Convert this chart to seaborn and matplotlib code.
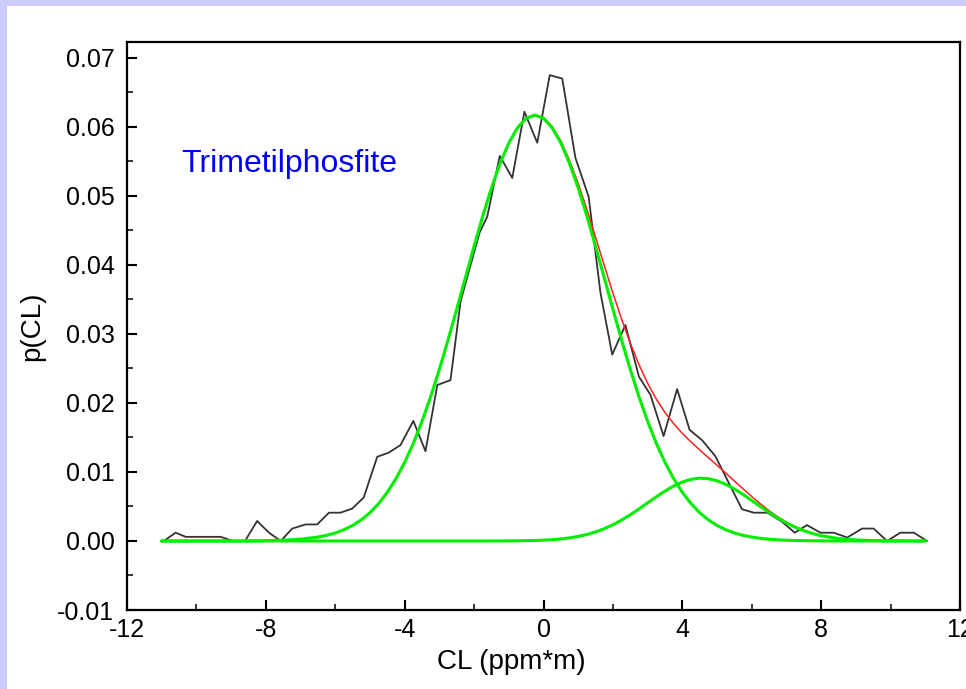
import matplotlib
matplotlib.use("Agg")
import matplotlib.pyplot as plt
from matplotlib.patches import Rectangle
from matplotlib.ticker import MultipleLocator, FormatStrFormatter
import seaborn as sns
import pandas as pd

# Measured data (black line)
cl_data = [-10.94, -10.60, -10.31, -9.97, -9.63, -9.30, -8.95, -8.60, -8.25, -7.91,
           -7.57, -7.24, -6.85, -6.52, -6.18, -5.85, -5.51, -5.18, -4.79, -4.46,
           -4.12, -3.75, -3.40, -3.06, -2.68, -2.39, -2.10, -1.84, -1.62, -1.26,
           -0.90, -0.55, -0.18, 0.18, 0.54, 0.92, 1.30, 1.64, 1.98, 2.36,
           2.75, 3.08, 3.46, 3.85, 4.21, 4.57, 4.95, 5.33, 5.72, 6.06,
           6.45, 6.87, 7.24, 7.59, 7.98, 8.36, 8.75, 9.18, 9.51, 9.90,
           10.28, 10.67, 11.05]
p_data = [0.0000, 0.0012, 0.0006, 0.0006, 0.0006, 0.0006, 0.0000, 0.0000, 0.0029, 0.0012,
          0.0000, 0.0018, 0.0024, 0.0024, 0.0041, 0.0041, 0.0047, 0.0063, 0.0122, 0.0128,
          0.0139, 0.0174, 0.0130, 0.0226, 0.0233, 0.0347, 0.0400, 0.0447, 0.0470, 0.0558,
          0.0526, 0.0622, 0.0577, 0.0675, 0.0670, 0.0555, 0.0499, 0.0360, 0.0270, 0.0313,
          0.0238, 0.0212, 0.0152, 0.0220, 0.0161, 0.0146, 0.0123, 0.0085, 0.0046, 0.0041,
          0.0041, 0.0028, 0.0012, 0.0023, 0.0012, 0.0012, 0.0005, 0.0018, 0.0018, 0.0000,
          0.0012, 0.0012, 0.0000]

# Fit curves
cl_fit = [-11, -10.5, -10, -9.5, -9, -8.5, -8, -7.5, -7,
          -6.5, -6.25, -6, -5.75, -5.5, -5.25, -5, -4.75, -4.5, -4.25,
          -4, -3.75, -3.5, -3.25, -3, -2.75, -2.5, -2.25, -2, -1.75,
          -1.5, -1.25, -1, -0.75, -0.5, -0.25, 0, 0.25, 0.5, 0.75,
          1, 1.25, 1.5, 1.75, 2, 2.25, 2.5, 2.75, 3, 3.25,
          3.5, 3.75, 4, 4.25, 4.5, 4.75, 5, 5.25, 5.5, 5.75,
          6, 6.25, 6.5, 6.75, 7, 7.25, 7.5, 7.75, 8,
          8.5, 9, 9.5, 10, 10.5, 11]
peak1 = [0, 0, 0, 0, 0, 0, 0.000045, 0.000112, 0.000259,
         0.000565, 0.00082, 0.00116, 0.00163, 0.00225, 0.00306, 0.00410, 0.00542, 0.00705, 0.00903,
         0.01139, 0.01416, 0.01734, 0.02092, 0.02487, 0.02912, 0.03358, 0.03816, 0.04270, 0.04709,
         0.05114, 0.05472, 0.05767, 0.05987, 0.06124, 0.06170, 0.06124, 0.05987, 0.05767, 0.05472,
         0.05114, 0.04709, 0.04270, 0.03816, 0.03358, 0.02912, 0.02487, 0.02092, 0.01734, 0.01416,
         0.01139, 0.00903, 0.00705, 0.00542, 0.00410, 0.00306, 0.00225, 0.00163, 0.00116, 0.00082,
         0.000565, 0.000385, 0.000259, 0.000171, 0.000112, 0.000072, 0.000045, 0.000028, 0.000017,
         0, 0, 0, 0, 0, 0]
peak2 = [0, 0, 0, 0, 0, 0, 0, 0, 0,
         0, 0, 0, 0, 0, 0, 0, 0, 0, 0,
         0, 0, 0, 0, 0, 0, 0, 0, 0, 0,
         0.000004, 0.000008, 0.000015, 0.000026, 0.000045, 0.000075, 0.000122, 0.000194, 0.000300, 0.000451,
         0.00066, 0.000944, 0.00131, 0.00178, 0.00235, 0.00303, 0.00379, 0.00464, 0.00552, 0.00640,
         0.00723, 0.00797, 0.00854, 0.00893, 0.00910, 0.00902, 0.00872, 0.00822, 0.00754, 0.00674,
         0.00587, 0.00499, 0.00412, 0.00332, 0.00261, 0.00200, 0.00149, 0.00108, 0.00076,
         0.00035, 0.00015, 0.000056, 0.000019, 0.000006, 0]
cumulative = [0, 0, 0, 0, 0, 0, 0.000045, 0.000112, 0.000259,
              0.000565, 0.00082, 0.00116, 0.00163, 0.00225, 0.00306, 0.00410, 0.00542, 0.00705, 0.00903,
              0.01139, 0.01416, 0.01734, 0.02092, 0.02487, 0.02912, 0.03358, 0.03816, 0.04270, 0.04709,
              0.05114, 0.05473, 0.05769, 0.05990, 0.06129, 0.06178, 0.06136, 0.06006, 0.05797, 0.05517,
              0.05180, 0.04803, 0.04401, 0.03994, 0.03593, 0.03215, 0.02866, 0.02556, 0.02286, 0.02056,
              0.01862, 0.01700, 0.01559, 0.01435, 0.01320, 0.01208, 0.01097, 0.00985, 0.00870, 0.00756,
              0.00644, 0.00538, 0.00438, 0.00349, 0.00272, 0.00207, 0.00154, 0.00111, 0.00078,
              0.00035, 0.00015, 0.000056, 0.000019, 0.000006, 0]

x_ticks = [-12, -8, -4, 0, 4, 8, 12]
title_text = "Trimetilphosfite"

sns.set_theme(style="white")
plt.rcParams['font.family'] = ['Liberation Sans', 'DejaVu Sans']
plt.rcParams['axes.unicode_minus'] = False

fig = plt.figure(figsize=(9.66, 6.89), dpi=100)
fig.patch.set_facecolor("white")
fig.patches.append(Rectangle((0, 1 - 6 / 689), 1, 6 / 689, transform=fig.transFigure,
                             facecolor="#CCCCFF", edgecolor="none", zorder=0))
fig.patches.append(Rectangle((0, 0), 7 / 966, 1, transform=fig.transFigure,
                             facecolor="#CCCCFF", edgecolor="none", zorder=0))

ax = fig.add_axes([127 / 966, 1 - 610 / 689, 833 / 966, 568 / 689])

df_data = pd.DataFrame({"CL": cl_data, "p": p_data})
df_fit = pd.DataFrame({"CL": cl_fit, "p1": peak1, "p2": peak2, "sum": cumulative})

sns.lineplot(data=df_data, x="CL", y="p", ax=ax, color="#333333", lw=1.3,
             sort=False, estimator=None, zorder=2)
sns.lineplot(data=df_fit, x="CL", y="sum", ax=ax, color="#FF2020", lw=1.1,
             sort=False, estimator=None, zorder=3)
sns.lineplot(data=df_fit, x="CL", y="p1", ax=ax, color="#00EE00", lw=2.2,
             sort=False, estimator=None, zorder=4)
sns.lineplot(data=df_fit, x="CL", y="p2", ax=ax, color="#00EE00", lw=2.2,
             sort=False, estimator=None, zorder=4)

ax.set_xlim(-12, 12)
ax.set_ylim(-0.01, 0.0723)
ax.set_xticks(x_ticks)
ax.xaxis.set_minor_locator(MultipleLocator(2))
ax.yaxis.set_major_locator(MultipleLocator(0.01))
ax.yaxis.set_minor_locator(MultipleLocator(0.005))
ax.yaxis.set_major_formatter(FormatStrFormatter("%.2f"))

for s in ax.spines.values():
    s.set_color("black")
    s.set_linewidth(1.6)

ax.tick_params(axis="both", which="major", direction="in", length=7, width=1.5,
               labelsize=18, colors="black", bottom=True, left=True, top=False, right=False)
ax.tick_params(axis="both", which="minor", direction="in", length=4, width=1.3,
               bottom=True, left=True, top=False, right=False)
ax.tick_params(axis="x", which="major", pad=6)
ax.tick_params(axis="y", which="major", pad=9)

ax.set_xlabel("CL (ppm*m)", fontsize=20, color="black")
ax.set_ylabel("p(CL)", fontsize=20, color="black")
ax.xaxis.set_label_coords(0.461, -0.068)
ax.yaxis.set_label_coords(-0.098, 0.5)

ax.text(-10.45, 0.0535, title_text, color="#0000FF", fontsize=23,
        ha="left", va="baseline")

fig.savefig("out.png", dpi=100, facecolor=fig.get_facecolor())
